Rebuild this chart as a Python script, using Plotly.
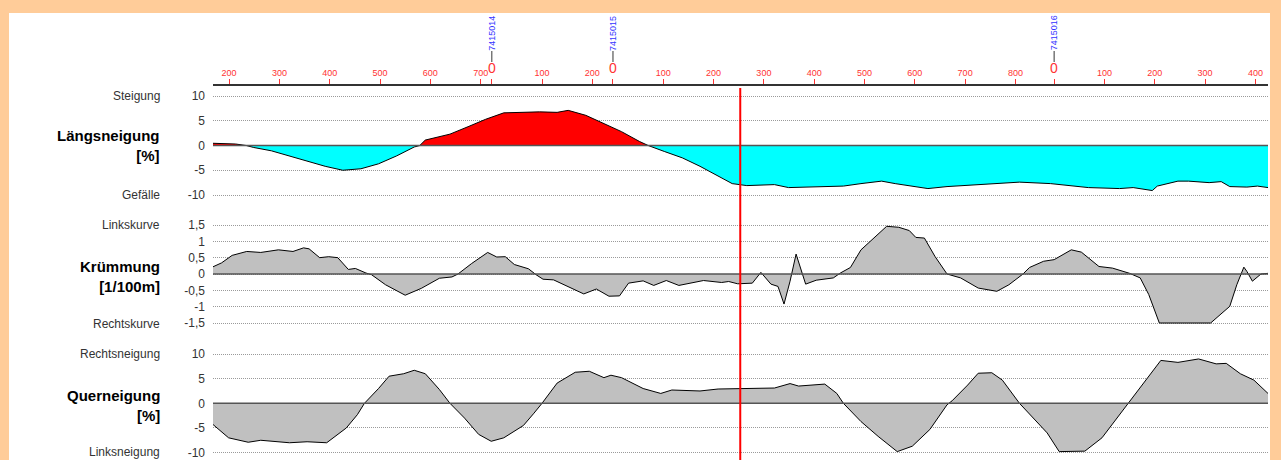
import plotly.graph_objects as go

W, H = 1281, 460
FONT = "Liberation Sans, Arial, sans-serif"

# ---------------- data ----------------
x_range = [168, 2265]                      # global chainage [m]
section_names = ["7415014", "7415015", "7415016"]
section_starts = [722, 963, 1840]
tick_sections = [0, 722, 963, 1840]
tick_locals = [[200, 300, 400, 500, 600, 700],
               [0, 100, 200],
               [0, 100, 200, 300, 400, 500, 600, 700, 800],
               [0, 100, 200, 300, 400]]
cursor_station = 1216

# Längsneigung [%]
ln_x = [168, 213, 234, 249, 284, 320, 355, 391, 426, 462, 497, 533, 568, 579, 590,
        639, 675, 710, 746, 781, 817, 852, 874, 909, 945, 980, 1016, 1033, 1065,
        1101, 1136, 1172, 1200, 1229, 1284, 1312, 1373, 1421, 1456, 1497, 1524,
        1589, 1627, 1696, 1771, 1833, 1908, 1970, 1997, 2035, 2045, 2086, 2107,
        2148, 2172, 2189, 2223, 2244, 2265]
ln_y = [0.45, 0.3, 0.0, -0.4, -1.07, -2.1, -3.2, -4.2, -5.0, -4.7, -3.7, -2.1, -0.3,
        0.0, 1.1, 2.3, 3.8, 5.3, 6.6, 6.7, 6.8, 6.7, 7.1, 6.1, 4.5, 2.8, 0.8, 0.0,
        -1.2, -2.5, -4.2, -6.1, -7.7, -8.1, -7.9, -8.5, -8.4, -8.2, -7.7, -7.2,
        -7.7, -8.7, -8.3, -7.9, -7.4, -7.7, -8.5, -8.7, -8.5, -9.1, -8.2, -7.2,
        -7.2, -7.5, -7.3, -8.3, -8.4, -8.2, -8.5]

# Krümmung [1/100m]
kr_x = [168, 185, 206, 235, 263, 298, 327, 348, 359, 380, 398, 416, 437, 451, 472,
        483, 511, 550, 582, 618, 643, 655, 682, 714, 732, 749, 767, 795, 810, 824,
        845, 881, 905, 930, 955, 976, 994, 1023, 1044, 1069, 1094, 1143, 1179,
        1193, 1211, 1240, 1257, 1277, 1291, 1303, 1315, 1327, 1346, 1367, 1401,
        1415, 1435, 1456, 1476, 1507, 1531, 1552, 1565, 1582, 1603, 1627, 1654,
        1689, 1726, 1750, 1778, 1791, 1819, 1840, 1874, 1894, 1929, 1956, 1990,
        2011, 2028, 2049, 2151, 2189, 2203, 2217, 2223, 2234, 2251, 2265]
kr_y = [0.22, 0.34, 0.57, 0.69, 0.66, 0.74, 0.69, 0.80, 0.77, 0.50, 0.53, 0.50,
        0.14, 0.17, 0.03, -0.02, -0.33, -0.65, -0.44, -0.13, -0.09, 0.0, 0.32,
        0.66, 0.52, 0.53, 0.29, 0.16, -0.02, -0.16, -0.18, -0.44, -0.61, -0.46,
        -0.68, -0.67, -0.28, -0.21, -0.35, -0.20, -0.35, -0.20, -0.26, -0.23,
        -0.30, -0.28, 0.05, -0.31, -0.38, -0.92, -0.22, 0.61, -0.31, -0.19, -0.12,
        0.03, 0.20, 0.74, 1.02, 1.46, 1.43, 1.33, 1.12, 1.10, 0.54, 0.0, -0.12,
        -0.43, -0.53, -0.33, 0.0, 0.20, 0.39, 0.44, 0.74, 0.67, 0.23, 0.18, 0.02,
        -0.12, -0.63, -1.5, -1.5, -0.99, -0.33, 0.21, 0.08, -0.22, 0.0, 0.02]

# Querneigung [%]
qn_x = [168, 199, 238, 263, 320, 355, 394, 412, 433, 455, 469, 497, 518, 547, 568,
        590, 618, 639, 668, 696, 721, 746, 785, 806, 822, 852, 888, 916, 945, 959,
        980, 1023, 1058, 1080, 1136, 1172, 1216, 1284, 1315, 1332, 1384, 1408,
        1421, 1456, 1490, 1528, 1558, 1593, 1627, 1637, 1668, 1689, 1716, 1737,
        1771, 1798, 1826, 1850, 1901, 1935, 1987, 2025, 2052, 2086, 2127, 2162,
        2182, 2210, 2237, 2265]
qn_y = [-4.3, -7.0, -7.9, -7.5, -8.0, -7.8, -8.0, -6.7, -5.0, -2.3, 0.0, 3.0, 5.5,
        6.0, 6.7, 6.0, 2.8, 0.0, -3.0, -6.3, -7.7, -7.0, -4.5, -2.0, 0.0, 4.1, 6.3,
        6.5, 5.2, 5.7, 5.2, 3.0, 2.0, 2.7, 2.5, 2.9, 3.0, 3.1, 4.0, 3.5, 3.9, 2.0,
        0.0, -3.7, -6.7, -9.8, -8.7, -5.3, -0.3, 0.5, 3.7, 6.1, 6.2, 4.7, 0.0, -3.0,
        -6.0, -9.8, -9.7, -7.0, 0.0, 5.0, 8.7, 8.3, 9.0, 8.0, 8.1, 6.0, 4.7, 2.0]

ln_ticks = [10, 5, 0, -5, -10]
kr_ticks = [1.5, 1, 0.5, 0, -0.5, -1, -1.5]
qn_ticks = [10, 5, 0, -5, -10]


def py(p):
    return 1 - p / H


def px(p):
    return p / W


def fmt(v):
    return ("%g" % v).replace(".", ",")


fig = go.Figure()

# Panel 1 : Längsneigung
fig.add_trace(go.Scatter(x=ln_x, y=[max(v, 0) for v in ln_y], xaxis="x", yaxis="y",
                         mode="lines", line=dict(width=0), fill="tozeroy",
                         fillcolor="#FF0000", hoverinfo="skip", showlegend=False))
fig.add_trace(go.Scatter(x=ln_x, y=[min(v, 0) for v in ln_y], xaxis="x", yaxis="y",
                         mode="lines", line=dict(width=0), fill="tozeroy",
                         fillcolor="#00FFFF", hoverinfo="skip", showlegend=False))
fig.add_trace(go.Scatter(x=ln_x, y=ln_y, xaxis="x", yaxis="y", mode="lines",
                         line=dict(color="#000000", width=1), showlegend=False))

# Panel 2 : Krümmung
fig.add_trace(go.Scatter(x=kr_x, y=kr_y, xaxis="x2", yaxis="y2", mode="lines",
                         line=dict(color="#000000", width=1), fill="tozeroy",
                         fillcolor="#C0C0C0", showlegend=False))

# Panel 3 : Querneigung
fig.add_trace(go.Scatter(x=qn_x, y=qn_y, xaxis="x3", yaxis="y3", mode="lines",
                         line=dict(color="#000000", width=1), fill="tozeroy",
                         fillcolor="#C0C0C0", showlegend=False))

# top chainage axis
tickvals, ticktext = [], []
for s, locs in zip(tick_sections, tick_locals):
    for l in locs:
        tickvals.append(s + l)
        ticktext.append("" if l == 0 else str(l))

xdom = [px(213), px(1268)]
yaxis_common = dict(showgrid=True, griddash="1px,1px", gridcolor="#9a9a9a", gridwidth=1,
                    zeroline=False, ticks="", ticklabelstandoff=7,
                    tickfont=dict(size=12, color="#333333", family=FONT),
                    showline=False, fixedrange=True)

fig.update_layout(
    width=W, height=H,
    margin=dict(l=0, r=0, t=0, b=0),
    paper_bgcolor="#FFCC99",
    plot_bgcolor="#FFFFFF",
    font=dict(family=FONT),
    showlegend=False,
    xaxis=dict(domain=xdom, range=x_range, anchor="free", position=py(85), side="top",
               showline=True, linecolor="#333333", linewidth=1.5, ticks="outside",
               ticklen=5, tickcolor="#FF3333", tickvals=tickvals, ticktext=ticktext,
               tickfont=dict(size=9, color="#FF3333", family=FONT), showgrid=False,
               zeroline=False, fixedrange=True),
    xaxis2=dict(domain=xdom, matches="x", anchor="y2", visible=False, fixedrange=True),
    xaxis3=dict(domain=xdom, matches="x", anchor="y3", visible=False, fixedrange=True),
    yaxis=dict(domain=[py(205), py(88)], range=[-12.02, 11.62], anchor="x",
               tickvals=ln_ticks, ticktext=[fmt(v) for v in ln_ticks], **yaxis_common),
    yaxis2=dict(domain=[py(333), py(215)], range=[-1.806, 1.806], anchor="x2",
                tickvals=kr_ticks, ticktext=[fmt(v) for v in kr_ticks], **yaxis_common),
    yaxis3=dict(domain=[0, py(344)], range=[-11.5, 12.03], anchor="x3",
                tickvals=qn_ticks, ticktext=[fmt(v) for v in qn_ticks], **yaxis_common),
)

shapes = [
    dict(type="rect", xref="paper", yref="paper", x0=px(9), x1=px(1270), y0=0,
         y1=py(13), fillcolor="#FFFFFF", line=dict(width=0), layer="below"),
]
for xa, ya in (("x", "y"), ("x2", "y2"), ("x3", "y3")):
    shapes.append(dict(type="line", xref=xa, yref=ya, x0=x_range[0], x1=x_range[1],
                       y0=0, y1=0, line=dict(color="#555555", width=1.5), layer="above"))
shapes.append(dict(type="line", xref="x", yref="paper", x0=cursor_station,
                   x1=cursor_station, y0=0, y1=py(88),
                   line=dict(color="#FF0000", width=2), layer="above"))
for s in section_starts:
    shapes.append(dict(type="line", xref="x", yref="paper", x0=s, x1=s,
                       y0=py(62), y1=py(51), line=dict(color="#777777", width=1.5)))
fig.update_layout(shapes=shapes)

ann = []
for name, s in zip(section_names, section_starts):
    ann.append(dict(x=s, y=py(68), xref="x", yref="paper", text="0", showarrow=False,
                    font=dict(size=14, color="#FF3333", family=FONT),
                    xanchor="center", yanchor="middle"))
    ann.append(dict(x=s, y=py(33), xref="x", yref="paper", text=name, showarrow=False,
                    textangle=-90, font=dict(size=9, color="#3333FF", family=FONT),
                    xanchor="center", yanchor="middle"))

side_labels = [("Steigung", 96), ("Gefälle", 195), ("Linkskurve", 225),
               ("Rechtskurve", 324), ("Rechtsneigung", 354), ("Linksneigung", 452)]
for t, yy in side_labels:
    ann.append(dict(x=px(162), y=py(yy), xref="paper", yref="paper", text=t,
                    showarrow=False, xanchor="right", yanchor="middle",
                    font=dict(size=12, color="#333333", family=FONT)))

titles = [("Längsneigung", "[%]", 146), ("Krümmung", "[1/100m]", 276),
          ("Querneigung", "[%]", 405)]
for t1, t2, yy in titles:
    ann.append(dict(x=px(162), y=py(yy), xref="paper", yref="paper",
                    text="<b>%s</b><br><b>%s</b>" % (t1, t2), showarrow=False,
                    xanchor="right", yanchor="middle", align="right",
                    font=dict(size=15, color="#000000", family=FONT)))
fig.update_layout(annotations=ann)

fig.write_html(
    "out.html",
    config={"displayModeBar": False},
    post_script="document.body.style.margin='0';document.body.style.padding='0';"
                "document.body.style.overflow='hidden';"
                "document.body.style.background='#FFCC99';",
)
